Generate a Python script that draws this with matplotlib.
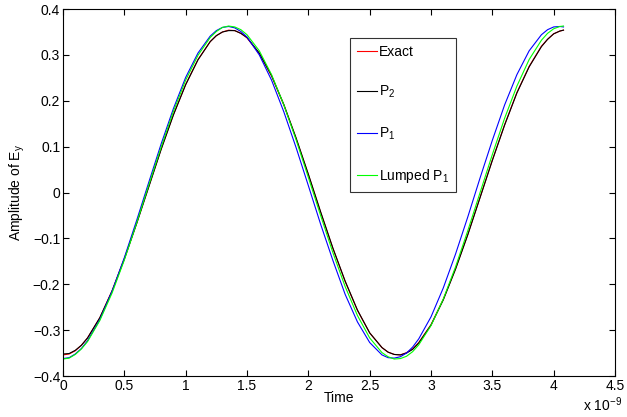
import matplotlib
matplotlib.use("Agg")
import matplotlib.pyplot as plt
import numpy as np

plt.rcParams['font.family'] = ['Liberation Sans', 'DejaVu Sans']
plt.rcParams['mathtext.default'] = 'regular'

# time in units of 1e-9 s
time_ns = [0.0, 0.05, 0.1, 0.15, 0.2, 0.3, 0.4, 0.5, 0.6, 0.7, 0.8, 0.9,
           1.0, 1.1, 1.2, 1.25, 1.3, 1.35, 1.4, 1.45, 1.5, 1.6, 1.7, 1.8, 1.9,
           2.0, 2.1, 2.2, 2.3, 2.4, 2.5, 2.6, 2.65, 2.7, 2.75, 2.8, 2.85, 2.9,
           3.0, 3.1, 3.2, 3.3, 3.4, 3.5, 3.6, 3.7, 3.8, 3.9, 3.95,
           4.0, 4.05, 4.08]

exact = [-0.354, -0.352, -0.345, -0.333, -0.317, -0.273, -0.214, -0.144, -0.067, 0.014, 0.095, 0.170,
         0.236, 0.290, 0.329, 0.342, 0.350, 0.354, 0.353, 0.347, 0.337, 0.303, 0.254, 0.191, 0.118,
         0.039, -0.043, -0.122, -0.194, -0.257, -0.306, -0.338, -0.348, -0.353, -0.354, -0.349, -0.341, -0.327,
         -0.288, -0.233, -0.166, -0.091, -0.010, 0.071, 0.148, 0.218, 0.275, 0.319, 0.334,
         0.346, 0.352, 0.354]

p2 = [-0.352, -0.351, -0.344, -0.333, -0.317, -0.273, -0.215, -0.145, -0.068, 0.013, 0.094, 0.169,
      0.235, 0.289, 0.329, 0.342, 0.350, 0.353, 0.353, 0.347, 0.338, 0.304, 0.255, 0.192, 0.119,
      0.040, -0.042, -0.121, -0.193, -0.256, -0.306, -0.338, -0.348, -0.353, -0.354, -0.350, -0.342, -0.328,
      -0.289, -0.234, -0.167, -0.092, -0.011, 0.070, 0.147, 0.217, 0.274, 0.318, 0.334,
      0.346, 0.352, 0.354]

p1 = [-0.362, -0.360, -0.352, -0.340, -0.323, -0.277, -0.215, -0.142, -0.061, 0.023, 0.106, 0.183,
      0.251, 0.304, 0.341, 0.353, 0.360, 0.362, 0.359, 0.351, 0.339, 0.300, 0.245, 0.176, 0.098,
      0.015, -0.069, -0.148, -0.222, -0.282, -0.327, -0.354, -0.360, -0.361, -0.358, -0.350, -0.337, -0.319,
      -0.271, -0.208, -0.134, -0.053, 0.032, 0.114, 0.191, 0.257, 0.309, 0.344, 0.355,
      0.361, 0.362, 0.361]

lumped_p1 = [-0.363, -0.361, -0.353, -0.341, -0.325, -0.279, -0.219, -0.147, -0.067, 0.017, 0.099, 0.177,
             0.245, 0.299, 0.338, 0.351, 0.360, 0.363, 0.361, 0.355, 0.344, 0.309, 0.257, 0.191, 0.115,
             0.033, -0.050, -0.131, -0.205, -0.268, -0.317, -0.349, -0.358, -0.363, -0.362, -0.357, -0.347, -0.332,
             -0.290, -0.232, -0.162, -0.083, 0.000, 0.083, 0.162, 0.232, 0.290, 0.332, 0.347,
             0.357, 0.362, 0.363]

t = np.array(time_ns) * 1e-9

fig = plt.figure(figsize=(6.27, 4.17), dpi=100)
ax = fig.add_axes([0.1005, 0.0983, 0.8804, 0.880])

ax.plot(t, exact, color='#ff0000', lw=0.8, label='Exact')
ax.plot(t, p2, color='black', lw=0.8, label='P$_2$')
ax.plot(t, p1, color='#0000ff', lw=0.8, label='P$_1$')
ax.plot(t, lumped_p1, color='#00ff00', lw=0.8, label='Lumped P$_1$')

ax.set_xlim(0, 4.5e-9)
ax.set_ylim(-0.4, 0.4)
ax.set_xticks(np.arange(0, 4.51, 0.5) * 1e-9)
ax.set_xticklabels(['0', '0.5', '1', '1.5', '2', '2.5', '3', '3.5', '4', '4.5'])
ax.set_yticks(np.arange(-0.4, 0.41, 0.1))
ax.set_yticklabels(['\u22120.4', '\u22120.3', '\u22120.2', '\u22120.1', '0',
                    '0.1', '0.2', '0.3', '0.4'])
ax.tick_params(direction='in', top=True, right=True, length=4, width=0.8,
               labelsize=10, pad=2)
for s in ax.spines.values():
    s.set_linewidth(0.8)

ax.set_xlabel('Time', fontsize=10, labelpad=-1)
ax.set_ylabel('Amplitude of E$_y$', fontsize=10, labelpad=4)
fig.text(0.93, 0.006, 'x 10$^{-9}$', fontsize=10, ha='left', va='bottom')

leg = ax.legend(loc='upper left', bbox_to_anchor=(0.52, 0.921), fontsize=10,
                frameon=True, fancybox=False, edgecolor='black',
                labelspacing=1.8, handlelength=1.45, handletextpad=0.15,
                borderpad=0.5, borderaxespad=0)
leg.get_frame().set_linewidth(0.8)

fig.savefig('out.png', dpi=100)
